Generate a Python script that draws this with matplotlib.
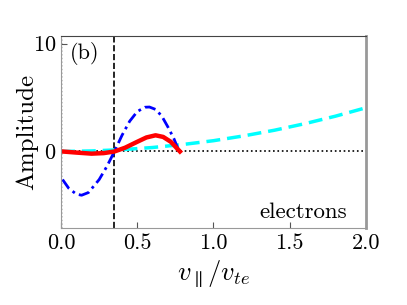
import numpy as np
import matplotlib
matplotlib.use("Agg")
import matplotlib.pyplot as plt

plt.rcParams["font.family"] = "serif"
plt.rcParams["font.serif"] = ["cmr10"]
plt.rcParams["mathtext.fontset"] = "cm"
plt.rcParams["axes.formatter.use_mathtext"] = True

# curves
v_cyan = [0.0, 0.2, 0.4, 0.6, 0.8, 1.0, 1.2, 1.4, 1.6, 1.8, 2.0]
amp_cyan = [0.0, 0.05, 0.17, 0.37, 0.65, 1.0, 1.45, 1.97, 2.58, 3.27, 4.05]

v_blue = [0.01, 0.05, 0.1, 0.135, 0.18, 0.25, 0.3, 0.35, 0.4, 0.45, 0.5, 0.55, 0.58, 0.62, 0.66, 0.7, 0.74, 0.775]
amp_blue = [-2.6, -3.4, -3.95, -4.05, -3.8, -2.6, -1.4, 0.0, 1.5, 2.8, 3.7, 4.1, 4.12, 3.9, 3.3, 2.3, 1.2, 0.0]

v_red = [0.01, 0.1, 0.2, 0.28, 0.35, 0.42, 0.5, 0.56, 0.62, 0.67, 0.72, 0.75, 0.78]
amp_red = [0.0, -0.1, -0.2, -0.15, 0.0, 0.35, 0.9, 1.3, 1.5, 1.35, 0.9, 0.45, 0.0]

v_res = 0.348

fig = plt.figure(figsize=(4.07, 3.05), dpi=100)
ax = fig.add_axes([0.150, 0.252, 0.749, 0.630])

ax.axhline(0, color="black", ls=":", lw=1.2)
ax.axvline(0, color="black", ls=":", lw=1.0)
ax.axvline(v_res, color="black", ls="--", lw=1.2)
ax.plot(v_cyan, amp_cyan, color="cyan", ls="--", lw=2.5, dashes=(4, 2))
ax.plot(v_blue, amp_blue, color="blue", lw=2.0, dashes=(4, 1.6, 1, 1.6))
ax.plot(v_red, amp_red, color="red", ls="-", lw=3.2)

ax.set_xlim(0, 2.0)
ax.set_ylim(-7.1, 10.7)
ax.set_xticks([0.0, 0.5, 1.0, 1.5, 2.0])
ax.set_xticklabels(["0.0", "0.5", "1.0", "1.5", "2.0"])
ax.set_yticks([0, 10])
ax.tick_params(direction="in", length=4, labelsize=16, colors="#555555", labelcolor="black")

for side in ["left", "bottom"]:
    ax.spines[side].set_color("#999999")
ax.spines["right"].set_color("#999999")
ax.spines["right"].set_linewidth(2)
ax.spines["top"].set_color("#444444")

ax.set_xlabel(r"$v_\parallel/v_{te}$", fontsize=19)
ax.set_ylabel("Amplitude", fontsize=18, labelpad=-4)
ax.text(0.03, 0.97, "(b)", transform=ax.transAxes, fontsize=16, va="top", ha="left")
ax.text(0.938, 0.052, "electrons", transform=ax.transAxes, fontsize=16.5, va="baseline", ha="right")

fig.savefig("out.png", dpi=100)
